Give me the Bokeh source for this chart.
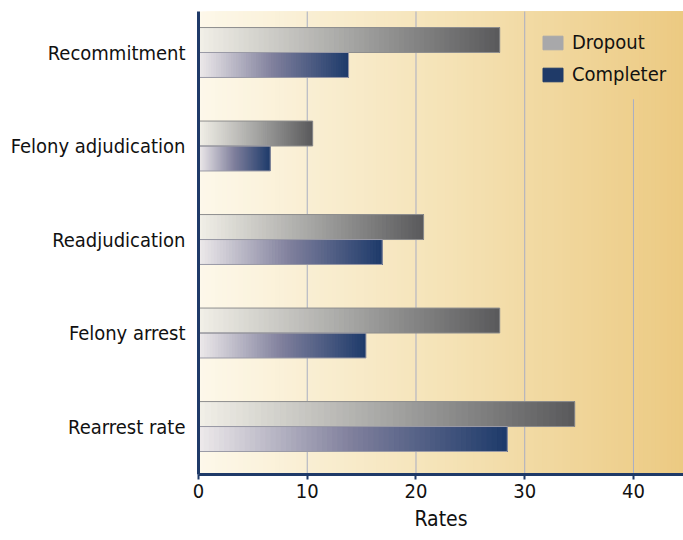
from bokeh.plotting import figure
from bokeh.models import Range1d, FixedTicker, Legend, LegendItem
from bokeh.embed import file_html
from bokeh.resources import INLINE

categories = ["Recommitment", "Felony adjudication", "Readjudication", "Felony arrest", "Rearrest rate"]
dropout = [27.7, 10.5, 20.7, 27.7, 34.6]
completer = [13.8, 6.6, 16.9, 15.4, 28.4]
x_ticks = [0, 10, 20, 30, 40]

FONT = "DejaVu Sans Condensed"
NAVY = "#1f3a68"

def hex2rgb(h):
    h = h.lstrip("#")
    return tuple(int(h[i:i + 2], 16) for i in (0, 2, 4))

def rgb2hex(c):
    return "#%02x%02x%02x" % tuple(int(round(v)) for v in c)

def interp(stops, t):
    for (p0, c0), (p1, c1) in zip(stops[:-1], stops[1:]):
        if t <= p1:
            f = 0 if p1 == p0 else (t - p0) / (p1 - p0)
            a, b = hex2rgb(c0), hex2rgb(c1)
            return rgb2hex([a[i] + (b[i] - a[i]) * f for i in range(3)])
    return stops[-1][1]

n = len(categories)
ypos = [n - 1 - i for i in range(n)]  # top to bottom
BAR_H = 0.267
X_END = 44.6
Y_LO, Y_HI = -0.513, 4.4385
LEGEND_BOTTOM_Y = 3.5  # gridlines right of the legend stop below it

p = figure(width=683, height=540, output_backend="svg", toolbar_location=None,
           x_range=Range1d(0, X_END), y_range=Range1d(Y_LO, Y_HI),
           min_border_left=198, min_border_right=0, min_border_top=11, min_border_bottom=66)
p.background_fill_color = "white"
p.border_fill_color = "white"
p.outline_line_color = None

# background gradient
bg_stops = [(0.0, "#fdf8ea"), (0.5, "#f5e3b7"), (1.0, "#ecca82")]
NB = 120
bl, bc = [], []
for i in range(NB):
    bl.append(X_END * i / NB)
    bc.append(interp(bg_stops, (i + 0.5) / NB))
p.quad(left=bl, right=X_END + 1, bottom=-5, top=10, fill_color=bc, line_color=None, level="image")

# vertical gridlines (the one under the legend stops below it)
gx = x_ticks[1:]
g_top = [LEGEND_BOTTOM_Y if x > 35 else Y_HI + 1 for x in gx]
p.segment(x0=gx, x1=gx, y0=Y_LO - 1, y1=g_top, line_color="#a9aec3", line_width=1, level="underlay")

# gradient bars
drop_stops = [(0.0, "#f2f0e8"), (0.5, "#a6a6a4"), (1.0, "#59595b")]
comp_stops = [(0.0, "#eeeaeb"), (0.5, "#7f7f9c"), (1.0, "#1d3a6a")]
NS = 60

def gradient_bars(values, bottoms, stops):
    L, R, B, T, C = [], [], [], [], []
    for v, y0 in zip(values, bottoms):
        step = v / NS
        for i in range(NS):
            L.append(i * step)
            R.append(v)
            B.append(y0)
            T.append(y0 + BAR_H)
            C.append(interp(stops, (i + 0.5) / NS))
    p.quad(left=L, right=R, bottom=B, top=T, fill_color=C, line_color=None)

drop_bottoms = [y for y in ypos]
comp_bottoms = [y - BAR_H for y in ypos]
gradient_bars(dropout, drop_bottoms, drop_stops)
gradient_bars(completer, comp_bottoms, comp_stops)

# outlines
p.quad(left=0, right=dropout, bottom=drop_bottoms, top=[b + BAR_H for b in drop_bottoms],
       fill_color=None, line_color="#8e8e8e", line_width=1)
p.quad(left=0, right=completer, bottom=comp_bottoms, top=[b + BAR_H for b in comp_bottoms],
       fill_color=None, line_color="#9a9aa6", line_width=1)

# legend proxies (placed outside the visible range)
r_drop = p.quad(left=[0], right=[0.1], bottom=[100], top=[101], fill_color="#a8a8aa", line_color="#a8a8aa")
r_comp = p.quad(left=[0], right=[0.1], bottom=[100], top=[101], fill_color=NAVY, line_color=NAVY)
legend = Legend(items=[LegendItem(label="Dropout", renderers=[r_drop]),
                       LegendItem(label="Completer", renderers=[r_comp])],
                location=(342, 388), padding=16, spacing=8,
                glyph_width=25, glyph_height=17, label_standoff=7, label_height=24,
                label_text_font=FONT, label_text_font_size="20px", label_text_color="#111111",
                background_fill_alpha=0.0, border_line_color=None)
p.add_layout(legend)

# grid
p.ygrid.grid_line_color = None
p.xgrid.grid_line_color = None

# axes
p.xaxis.ticker = FixedTicker(ticks=x_ticks)
p.xaxis.axis_label = "Rates"
p.xaxis.axis_label_text_font = FONT
p.xaxis.axis_label_text_font_size = "21px"
p.xaxis.axis_label_text_font_style = "normal"
p.xaxis.axis_label_text_color = "#111111"
p.xaxis.axis_label_standoff = 6
p.xaxis.major_label_text_font = FONT
p.xaxis.major_label_text_font_size = "20px"
p.xaxis.major_label_text_color = "#111111"
p.xaxis.major_label_standoff = 4
p.xaxis.axis_line_color = NAVY
p.xaxis.axis_line_width = 3
p.xaxis.major_tick_line_color = NAVY
p.xaxis.major_tick_line_width = 2
p.xaxis.major_tick_out = 5
p.xaxis.major_tick_in = 0
p.xaxis.minor_tick_line_color = None

p.yaxis.ticker = FixedTicker(ticks=ypos)
p.yaxis.major_label_overrides = {y: c for y, c in zip(ypos, categories)}
p.yaxis.major_label_text_font = FONT
p.yaxis.major_label_text_font_size = "20px"
p.yaxis.major_label_text_color = "#111111"
p.yaxis.major_label_standoff = 7
p.yaxis.axis_line_color = NAVY
p.yaxis.axis_line_width = 3
p.yaxis.major_tick_line_color = None
p.yaxis.minor_tick_line_color = None

open("out.html", "w").write(file_html(p, INLINE))
